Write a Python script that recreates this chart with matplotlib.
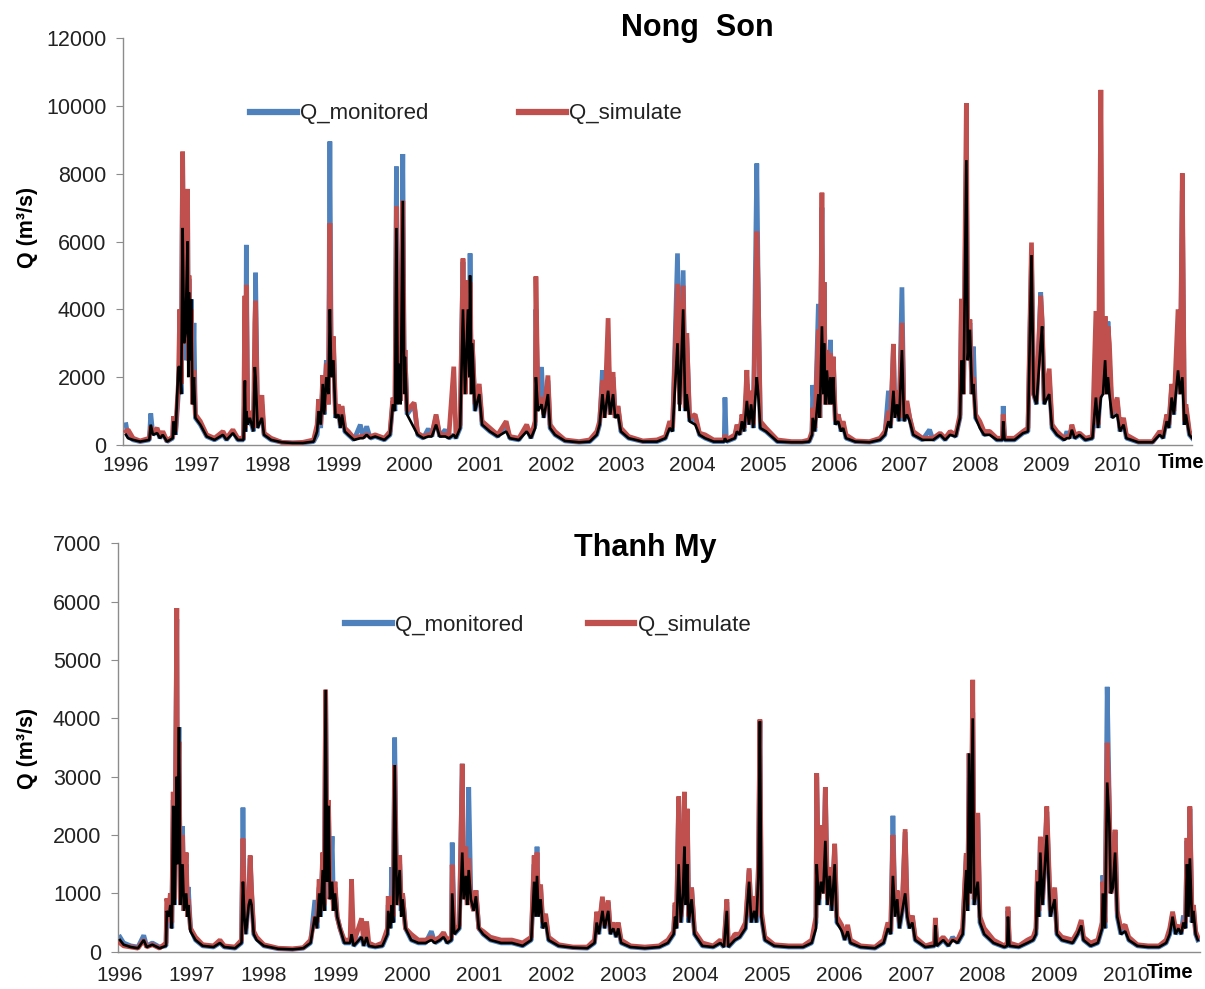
import matplotlib
matplotlib.use('Agg')
import matplotlib.pyplot as plt
from matplotlib.lines import Line2D

plt.rcParams['font.family'] = ['Liberation Sans', 'DejaVu Sans']

# ---------------- data ----------------
years = list(range(1996, 2011))
legend_labels = ['Q_monitored', 'Q_simulate']

# Nong Son station: time (decimal year), monitored, simulated, third (black) trace
ns_t = [1996.00, 1996.03, 1996.10, 1996.20, 1996.33, 1996.35, 1996.38, 1996.44, 1996.48, 1996.52,
        1996.58, 1996.66, 1996.67, 1996.70, 1996.74, 1996.76, 1996.78, 1996.80, 1996.82, 1996.84,
        1996.87, 1996.88, 1996.89, 1996.91, 1996.92, 1996.94, 1996.96, 1996.98,
        1997.05, 1997.14, 1997.25, 1997.37, 1997.42, 1997.51, 1997.58, 1997.66, 1997.68, 1997.69,
        1997.70, 1997.72, 1997.75, 1997.80, 1997.82, 1997.83, 1997.86, 1997.92, 1997.95,
        1998.05, 1998.20, 1998.35, 1998.50, 1998.65, 1998.70, 1998.72, 1998.75, 1998.78, 1998.80,
        1998.83, 1998.86, 1998.88, 1998.90, 1998.93, 1998.96,
        1999.00, 1999.03, 1999.05, 1999.09, 1999.14, 1999.22, 1999.31, 1999.35, 1999.40, 1999.45,
        1999.52, 1999.65, 1999.73, 1999.77, 1999.80, 1999.82, 1999.84, 1999.86, 1999.88, 1999.91,
        1999.93, 1999.94, 1999.97,
        2000.07, 2000.12, 2000.20, 2000.27, 2000.32, 2000.38, 2000.43, 2000.51, 2000.56, 2000.63,
        2000.66, 2000.72, 2000.76, 2000.79, 2000.83, 2000.85, 2000.86, 2000.88, 2000.89, 2000.93,
        2000.99,
        2001.03, 2001.14, 2001.25, 2001.37, 2001.42, 2001.55, 2001.66, 2001.72, 2001.78, 2001.79,
        2001.82, 2001.87, 2001.90, 2001.96, 2001.99,
        2002.06, 2002.20, 2002.40, 2002.55, 2002.65, 2002.69, 2002.73, 2002.76, 2002.81, 2002.84,
        2002.88, 2002.91, 2002.95, 2002.99,
        2003.10, 2003.30, 2003.50, 2003.62, 2003.68, 2003.72, 2003.79, 2003.82, 2003.87, 2003.90,
        2003.92, 2003.96,
        2004.04, 2004.10, 2004.18, 2004.30, 2004.45, 2004.46, 2004.48, 2004.60, 2004.63, 2004.67,
        2004.70, 2004.73, 2004.77, 2004.80, 2004.83, 2004.86, 2004.91, 2004.93, 2004.96,
        2005.04, 2005.20, 2005.40, 2005.55, 2005.65, 2005.69, 2005.70, 2005.73, 2005.78, 2005.80,
        2005.83, 2005.85, 2005.86, 2005.88, 2005.90, 2005.93, 2005.95, 2005.97, 2005.99,
        2006.02, 2006.06, 2006.10, 2006.13, 2006.17, 2006.30, 2006.50, 2006.65, 2006.72, 2006.77,
        2006.80, 2006.84, 2006.86, 2006.89, 2006.92, 2006.96, 2006.99,
        2007.03, 2007.07, 2007.12, 2007.25, 2007.35, 2007.40, 2007.50, 2007.57, 2007.64, 2007.72,
        2007.78, 2007.80, 2007.83, 2007.87, 2007.89, 2007.92, 2007.95, 2007.97,
        2008.00, 2008.06, 2008.12, 2008.20, 2008.30, 2008.38, 2008.39, 2008.41, 2008.55, 2008.67,
        2008.74, 2008.79, 2008.82, 2008.86, 2008.92, 2008.94, 2008.97,
        2009.04, 2009.08, 2009.15, 2009.25, 2009.29, 2009.33, 2009.36, 2009.40, 2009.47, 2009.55,
        2009.65, 2009.70, 2009.73, 2009.77, 2009.80, 2009.83, 2009.85, 2009.87, 2009.89, 2009.93,
        2010.00, 2010.04, 2010.09, 2010.13, 2010.30, 2010.50, 2010.60, 2010.65, 2010.70, 2010.73,
        2010.77, 2010.80, 2010.86, 2010.89, 2010.92, 2010.95, 2010.97, 2011.02, 2011.06]
ns_obs = [600, 250, 150, 100, 150, 930, 300, 450, 200, 350,
          100, 200, 800, 300, 1500, 2500, 1500, 8600, 2500, 4000,
          7400, 2500, 4900, 2500, 4300, 1500, 3600, 800,
          600, 250, 150, 300, 150, 400, 150, 150, 1800, 400,
          5900, 600, 800, 400, 2200, 5080, 500, 1200, 300,
          150, 80, 60, 60, 100, 300, 900, 500, 1800, 900,
          2500, 1200, 8950, 2000, 3000, 800,
          1100, 500, 1100, 400, 300, 150, 600, 200, 550, 200,
          250, 150, 300, 1300, 1000, 8210, 1500, 2500, 1300, 8580,
          2000, 2800, 900,
          1200, 300, 200, 480, 250, 850, 250, 450, 200, 300,
          200, 500, 5400, 1500, 4800, 2000, 5650, 1500, 3100, 1000,
          1700,
          600, 400, 250, 600, 200, 150, 500, 200, 600, 4000,
          1200, 2300, 800, 1900, 500,
          300, 120, 80, 100, 300, 600, 2200, 800, 2800, 900,
          2000, 800, 1100, 400,
          200, 100, 100, 200, 600, 400, 5650, 1200, 5150, 1000,
          3300, 700,
          800, 300, 200, 100, 100, 1400, 100, 200, 550, 300,
          800, 400, 1800, 600, 1500, 500, 8300, 4600, 500,
          400, 100, 80, 80, 100, 300, 1770, 400, 4160, 800,
          7000, 1500, 4800, 1200, 2800, 1200, 3100, 1200, 2600,
          600, 900, 400, 600, 200, 100, 80, 150, 300, 1600,
          500, 2900, 800, 1500, 700, 4650, 700,
          1200, 800, 300, 150, 450, 150, 300, 150, 350, 250,
          800, 4000, 1500, 8400, 2500, 3600, 1500, 2900,
          800, 600, 300, 350, 150, 150, 1150, 150, 150, 350,
          400, 5500, 1500, 1200, 4500, 3500, 1200,
          2000, 500, 300, 150, 400, 200, 500, 200, 300, 150,
          200, 1500, 500, 1800, 1500, 3700, 1500, 3640, 2500, 800,
          1300, 400, 700, 200, 80, 80, 350, 200, 800, 500,
          1700, 900, 3000, 1500, 7500, 600, 1100, 300, 200]
ns_sim = [400, 450, 200, 120, 200, 550, 350, 500, 250, 400,
          120, 250, 850, 400, 1800, 4000, 1800, 8650, 3000, 3500,
          7550, 2500, 5000, 2200, 4000, 1200, 2200, 900,
          700, 300, 200, 400, 200, 450, 200, 200, 4400, 500,
          4720, 800, 1000, 500, 3600, 4250, 600, 1470, 350,
          200, 80, 60, 80, 150, 600, 1350, 600, 2060, 1000,
          2400, 1200, 6540, 2000, 3200, 900,
          1200, 600, 1150, 500, 400, 200, 250, 250, 300, 250,
          300, 200, 400, 1400, 1200, 7030, 1500, 2500, 1300, 7200,
          2000, 2800, 1000,
          1250, 350, 250, 300, 300, 900, 300, 300, 250, 2310,
          300, 600, 5500, 1500, 4850, 2000, 4800, 1500, 3100, 1200,
          1800,
          700, 500, 300, 700, 250, 200, 600, 250, 700, 4970,
          1200, 1400, 900, 2050, 600,
          400, 150, 100, 150, 400, 700, 1900, 800, 3740, 900,
          2150, 800, 1150, 500,
          250, 120, 150, 250, 700, 500, 4750, 1200, 4700, 1100,
          3300, 800,
          900, 350, 300, 150, 150, 300, 150, 300, 600, 350,
          900, 500, 2210, 700, 1600, 600, 6290, 4600, 700,
          500, 150, 100, 100, 150, 400, 1100, 500, 3400, 800,
          7440, 1500, 4800, 1200, 2800, 1200, 2700, 1200, 2600,
          700, 900, 500, 700, 300, 120, 100, 200, 400, 1000,
          600, 2980, 900, 1600, 800, 3600, 800,
          1300, 800, 400, 200, 200, 200, 350, 200, 400, 300,
          900, 4310, 1500, 10080, 2500, 3700, 1500, 2000,
          900, 700, 400, 400, 200, 200, 900, 200, 200, 400,
          500, 5970, 1500, 1300, 4400, 3700, 1300,
          2250, 600, 400, 200, 250, 250, 600, 300, 350, 200,
          250, 3950, 600, 10470, 1500, 3800, 1500, 3500, 3000, 900,
          1400, 500, 800, 300, 100, 100, 400, 300, 900, 600,
          1800, 1000, 4000, 1500, 8010, 700, 1200, 400, 250]
ns_blk = [300, 200, 150, 100, 150, 600, 300, 350, 200, 300,
          100, 200, 700, 300, 2300, 2300, 1500, 6400, 3000, 3300,
          6000, 2000, 4500, 2500, 4300, 1200, 2000, 800,
          600, 250, 150, 300, 150, 350, 150, 150, 1900, 400,
          1000, 600, 800, 400, 2300, 2000, 500, 800, 300,
          150, 80, 60, 60, 100, 400, 1000, 600, 1800, 900,
          2000, 1500, 4000, 2000, 2500, 800,
          900, 500, 900, 400, 300, 150, 200, 200, 300, 200,
          250, 150, 300, 1200, 1000, 6400, 1200, 2400, 1200, 7200,
          1500, 2600, 900,
          500, 300, 200, 250, 250, 600, 250, 250, 200, 300,
          200, 500, 4000, 1500, 4000, 2000, 5000, 1500, 3000, 1000,
          1500,
          600, 400, 250, 400, 200, 150, 400, 200, 500, 2000,
          1000, 1200, 800, 1500, 500,
          300, 120, 80, 100, 300, 600, 1500, 800, 1600, 900,
          1500, 800, 900, 400,
          200, 100, 100, 200, 500, 400, 3000, 1000, 4000, 1000,
          1500, 700,
          600, 300, 200, 100, 100, 200, 100, 200, 400, 300,
          700, 400, 1300, 600, 1200, 500, 2000, 1500, 500,
          400, 100, 80, 80, 100, 300, 800, 400, 1500, 800,
          3500, 1500, 3000, 1200, 2200, 1200, 2000, 1200, 2000,
          600, 700, 400, 500, 200, 100, 80, 150, 300, 700,
          500, 1600, 800, 1200, 700, 2800, 700,
          900, 700, 300, 150, 150, 150, 300, 150, 300, 250,
          800, 2500, 1500, 8400, 2500, 3400, 1500, 1800,
          800, 500, 300, 300, 150, 150, 700, 150, 150, 350,
          400, 5600, 1500, 1200, 3000, 3500, 1200,
          1500, 500, 300, 150, 200, 200, 450, 200, 300, 150,
          200, 1400, 500, 1400, 1500, 2500, 1500, 2000, 1500, 800,
          900, 400, 600, 200, 80, 80, 300, 200, 700, 500,
          1400, 900, 2200, 1500, 2000, 600, 900, 300, 200]

# Thanh My station
tm_t = [1996.00, 1996.05, 1996.15, 1996.25, 1996.33, 1996.37, 1996.45, 1996.55, 1996.64, 1996.65,
        1996.68, 1996.70, 1996.72, 1996.74, 1996.76, 1996.79, 1996.80, 1996.82, 1996.84, 1996.87,
        1996.89, 1996.92, 1996.94, 1996.95, 1996.98,
        1997.05, 1997.15, 1997.30, 1997.39, 1997.45, 1997.60, 1997.69, 1997.71, 1997.73, 1997.75,
        1997.79, 1997.81, 1997.83, 1997.86, 1997.90,
        1998.00, 1998.20, 1998.40, 1998.55, 1998.65, 1998.71, 1998.74, 1998.77, 1998.79, 1998.82,
        1998.84, 1998.86, 1998.88, 1998.90, 1998.92, 1998.95, 1998.97, 1998.99,
        1999.02, 1999.06, 1999.12, 1999.20, 1999.22, 1999.25, 1999.36, 1999.39, 1999.43, 1999.46,
        1999.55, 1999.65, 1999.72, 1999.73, 1999.76, 1999.78, 1999.80, 1999.82, 1999.85, 1999.89,
        1999.91, 1999.93, 1999.97,
        2000.05, 2000.15, 2000.25, 2000.33, 2000.38, 2000.45, 2000.50, 2000.55, 2000.61, 2000.62,
        2000.65, 2000.72, 2000.76, 2000.78, 2000.81, 2000.83, 2000.85, 2000.88, 2000.92, 2000.95,
        2000.99,
        2001.05, 2001.15, 2001.30, 2001.45, 2001.60, 2001.72, 2001.76, 2001.78, 2001.80, 2001.82,
        2001.85, 2001.88, 2001.92, 2001.96,
        2002.10, 2002.30, 2002.50, 2002.60, 2002.63, 2002.66, 2002.71, 2002.74, 2002.79, 2002.82,
        2002.86, 2002.90, 2002.93, 2002.97,
        2003.10, 2003.30, 2003.50, 2003.62, 2003.70, 2003.72, 2003.74, 2003.77, 2003.80, 2003.83,
        2003.85, 2003.87, 2003.89, 2003.91, 2003.95, 2003.99,
        2004.10, 2004.25, 2004.35, 2004.40, 2004.44, 2004.46, 2004.55, 2004.62, 2004.70, 2004.75,
        2004.78, 2004.82, 2004.85, 2004.88, 2004.90, 2004.92, 2004.97,
        2005.10, 2005.30, 2005.50, 2005.62, 2005.68, 2005.69, 2005.72, 2005.75, 2005.78, 2005.81,
        2005.84, 2005.87, 2005.90, 2005.94, 2005.97,
        2006.04, 2006.08, 2006.12, 2006.16, 2006.30, 2006.50, 2006.62, 2006.68, 2006.72, 2006.75,
        2006.78, 2006.81, 2006.84, 2006.88, 2006.92, 2006.95, 2006.98,
        2007.02, 2007.06, 2007.20, 2007.33, 2007.34, 2007.36, 2007.45, 2007.52, 2007.58, 2007.65,
        2007.72, 2007.77, 2007.79, 2007.81, 2007.83, 2007.86, 2007.88, 2007.93, 2007.96,
        2008.02, 2008.15, 2008.30, 2008.34, 2008.35, 2008.37, 2008.50, 2008.62, 2008.70, 2008.74,
        2008.76, 2008.78, 2008.80, 2008.83, 2008.86, 2008.89, 2008.91, 2008.94,
        2009.00, 2009.03, 2009.10, 2009.25, 2009.32, 2009.37, 2009.40, 2009.50, 2009.60, 2009.66,
        2009.67, 2009.70, 2009.73, 2009.76, 2009.78, 2009.81, 2009.84, 2009.87, 2009.92, 2009.98,
        2010.03, 2010.15, 2010.30, 2010.45, 2010.55, 2010.60, 2010.64, 2010.68, 2010.72, 2010.76,
        2010.79, 2010.82, 2010.84, 2010.86, 2010.88, 2010.91, 2010.93, 2010.96, 2010.99]
tm_obs = [250, 150, 100, 80, 280, 100, 150, 80, 100, 700,
          600, 900, 400, 2600, 800, 5700, 1500, 3850, 800, 2150,
          700, 1500, 600, 1110, 400,
          200, 100, 80, 150, 80, 60, 150, 2470, 600, 300,
          900, 1600, 1000, 300, 220,
          100, 50, 40, 60, 150, 886, 400, 1100, 600, 1600,
          700, 4480, 1200, 2500, 900, 1980, 700, 1100,
          600, 400, 150, 150, 300, 100, 250, 100, 250, 100,
          80, 100, 300, 800, 400, 1450, 500, 3670, 800, 1500,
          700, 1000, 400,
          200, 150, 150, 350, 150, 200, 300, 150, 200, 1870,
          300, 400, 3220, 900, 1300, 800, 2820, 900, 700, 1050,
          400,
          300, 200, 150, 150, 100, 200, 1500, 600, 1800, 600,
          1100, 400, 600, 200,
          100, 70, 60, 150, 600, 300, 900, 400, 850, 300,
          450, 250, 450, 150,
          80, 60, 80, 150, 300, 800, 400, 2600, 500, 1000,
          2700, 800, 2400, 500, 1100, 300,
          100, 80, 150, 80, 850, 80, 200, 250, 400, 1400,
          500, 900, 500, 1300, 3950, 600, 200,
          100, 80, 80, 150, 500, 3000, 800, 2100, 1000, 2800,
          800, 1400, 700, 1800, 500,
          400, 200, 400, 150, 80, 60, 150, 450, 300, 2330,
          600, 1000, 400, 700, 2050, 600, 400,
          600, 200, 80, 100, 500, 100, 200, 100, 250, 150,
          300, 1650, 700, 3400, 1000, 4100, 800, 2350, 500,
          300, 150, 80, 100, 700, 100, 80, 150, 200, 300,
          1300, 600, 1900, 800, 1500, 2400, 1700, 600,
          1050, 300, 200, 150, 300, 500, 200, 100, 150, 400,
          1310, 400, 4540, 2500, 1000, 1100, 2050, 600, 300, 400,
          200, 100, 80, 80, 150, 300, 650, 300, 400, 300,
          620, 400, 1900, 600, 2450, 500, 750, 300, 200]
tm_sim = [150, 100, 80, 60, 200, 80, 120, 60, 150, 914,
          700, 1000, 500, 2740, 900, 5890, 1500, 3600, 800, 2000,
          700, 1700, 600, 900, 400,
          250, 120, 100, 200, 100, 80, 200, 1940, 700, 400,
          1000, 1650, 1050, 350, 250,
          120, 60, 50, 70, 200, 600, 500, 1240, 700, 1700,
          800, 4490, 1200, 2600, 900, 1200, 700, 1200,
          600, 400, 200, 200, 1240, 150, 571, 150, 520, 150,
          100, 150, 400, 950, 500, 800, 600, 3200, 800, 1650,
          800, 1000, 400,
          300, 200, 200, 250, 200, 250, 330, 200, 250, 1490,
          350, 450, 3220, 900, 1800, 800, 1600, 900, 700, 1050,
          400,
          350, 250, 200, 200, 150, 250, 1650, 700, 1700, 700,
          1150, 500, 650, 250,
          120, 80, 80, 200, 686, 400, 943, 450, 880, 350,
          500, 300, 500, 200,
          100, 80, 100, 200, 350, 840, 450, 2660, 600, 1100,
          2740, 900, 2450, 600, 1100, 350,
          150, 100, 200, 100, 897, 100, 300, 300, 500, 1430,
          600, 950, 600, 1500, 3980, 700, 250,
          120, 100, 100, 200, 600, 3060, 900, 2170, 1000, 2820,
          900, 1450, 800, 1850, 600,
          450, 250, 460, 200, 100, 80, 200, 500, 350, 2000,
          700, 1050, 500, 800, 2100, 700, 450,
          620, 250, 100, 150, 580, 150, 250, 150, 200, 200,
          400, 1690, 800, 3400, 1000, 4660, 900, 2380, 600,
          400, 200, 100, 150, 771, 150, 100, 200, 250, 400,
          1400, 700, 1970, 900, 1600, 2490, 1800, 700,
          1100, 350, 250, 200, 350, 543, 250, 150, 200, 500,
          1200, 500, 3580, 2500, 1000, 1200, 2090, 700, 400, 460,
          250, 120, 100, 100, 200, 400, 686, 400, 450, 350,
          500, 500, 1950, 700, 2490, 600, 800, 350, 250]
tm_blk = [200, 120, 80, 60, 200, 80, 120, 60, 100, 700,
          600, 800, 400, 2500, 800, 3000, 1500, 3850, 800, 1500,
          700, 1000, 600, 800, 350,
          200, 100, 80, 150, 80, 60, 150, 1200, 600, 300,
          800, 900, 800, 300, 200,
          100, 50, 40, 60, 150, 600, 400, 1000, 600, 1400,
          700, 4490, 1200, 2500, 900, 1200, 700, 1000,
          600, 400, 150, 150, 300, 100, 250, 100, 250, 100,
          80, 100, 300, 700, 400, 800, 500, 3200, 800, 1400,
          600, 900, 400,
          200, 150, 150, 200, 150, 200, 250, 150, 200, 1000,
          300, 400, 1700, 900, 1300, 800, 1400, 900, 700, 950,
          400,
          300, 200, 150, 150, 100, 200, 1200, 600, 1300, 600,
          900, 400, 500, 200,
          100, 70, 60, 150, 500, 300, 700, 400, 700, 300,
          400, 250, 400, 150,
          80, 60, 80, 150, 300, 600, 400, 1500, 500, 1000,
          1800, 800, 1500, 500, 900, 300,
          100, 80, 150, 80, 700, 80, 200, 250, 400, 1200,
          500, 700, 500, 1300, 3950, 600, 200,
          100, 80, 80, 150, 400, 1500, 800, 1200, 1000, 1900,
          800, 1300, 700, 1500, 500,
          350, 200, 350, 150, 80, 60, 150, 400, 300, 1300,
          600, 900, 400, 700, 1000, 600, 400,
          500, 200, 80, 100, 450, 100, 200, 100, 200, 150,
          300, 1400, 700, 3400, 1000, 4000, 800, 1200, 500,
          300, 150, 80, 100, 600, 100, 80, 150, 200, 300,
          1200, 600, 1700, 800, 1400, 2000, 1400, 600,
          900, 300, 200, 150, 300, 450, 200, 100, 150, 400,
          1000, 400, 2900, 2200, 1000, 1100, 1700, 600, 300, 350,
          200, 100, 80, 80, 150, 300, 600, 300, 400, 300,
          500, 400, 1500, 600, 1600, 500, 700, 300, 200]

# ---------------- styling ----------------
BLUE = '#4F81BD'
RED = '#C0504D'
AXC = '#8C8C8C'
TXT = '#222222'
W, H = 1205, 989

fig = plt.figure(figsize=(W / 100, H / 100), dpi=100)


def rect(l, t, r, b):
    return [l / W, 1 - b / H, (r - l) / W, (b - t) / H]


def draw(ax, t, obs, sim, blk, xlim, ymax, ystep, title, title_xy,
         leg_xy, colspace, ylab_y, time_xy, xpad):
    ax.plot(t, obs, color=BLUE, lw=3.4, solid_joinstyle='bevel', zorder=2)
    ax.plot(t, sim, color=RED, lw=3.4, solid_joinstyle='bevel', zorder=3)
    ax.plot(t, blk, color='black', lw=1.9, solid_joinstyle='bevel', zorder=4)
    ax.set_xlim(*xlim)
    ax.set_ylim(0, ymax)
    ax.set_yticks(list(range(0, ymax + 1, ystep)))
    ax.set_xticks(years)
    ax.set_xticklabels([str(y) for y in years])
    for s in ['top', 'right']:
        ax.spines[s].set_visible(False)
    for s in ['left', 'bottom']:
        ax.spines[s].set_color(AXC)
        ax.spines[s].set_linewidth(1.0)
    ax.tick_params(axis='x', length=0, pad=xpad, labelsize=15, labelcolor=TXT)
    ax.tick_params(axis='y', length=5, direction='out', color=AXC, pad=7,
                   labelsize=15.5, labelcolor=TXT)
    fig.text(title_xy[0] / W, 1 - title_xy[1] / H, title, ha='center', va='center',
             fontsize=22, fontweight='bold', color='black')
    fig.text(28 / W, 1 - ylab_y / H, 'Q (m³/s)', rotation=90, ha='center', va='center',
             fontsize=15.5, fontweight='bold', color='black')
    fig.text(time_xy[0] / W, 1 - time_xy[1] / H, 'Time', ha='center', va='center',
             fontsize=14.5, fontweight='bold', color='black')
    handles = [Line2D([], [], color=BLUE, lw=4.5), Line2D([], [], color=RED, lw=4.5)]
    ax.legend(handles=handles, labels=legend_labels, ncol=2, frameon=False,
              loc='center left', bbox_to_anchor=(leg_xy[0] / W, 1 - leg_xy[1] / H),
              bbox_transform=fig.transFigure, borderpad=0, borderaxespad=0,
              handlelength=2.1, handletextpad=0.15, columnspacing=colspace,
              fontsize=16, labelcolor=TXT)


ax1 = fig.add_axes(rect(123, 38, 1192, 445))
draw(ax1, ns_t, ns_obs, ns_sim, ns_blk, (1995.958, 2011.057), 12000, 2000,
     'Nong  Son', (697, 28), (250, 114), 4.1, 227, (1181, 462), 8)

ax2 = fig.add_axes(rect(118, 543.3, 1200, 951.7))
draw(ax2, tm_t, tm_obs, tm_sim, tm_blk, (1995.972, 2011.021), 7000, 1000,
     'Thanh My', (645, 548), (345, 625), 2.9, 748, (1170, 972), 10)

fig.savefig('out.png', dpi=100)
